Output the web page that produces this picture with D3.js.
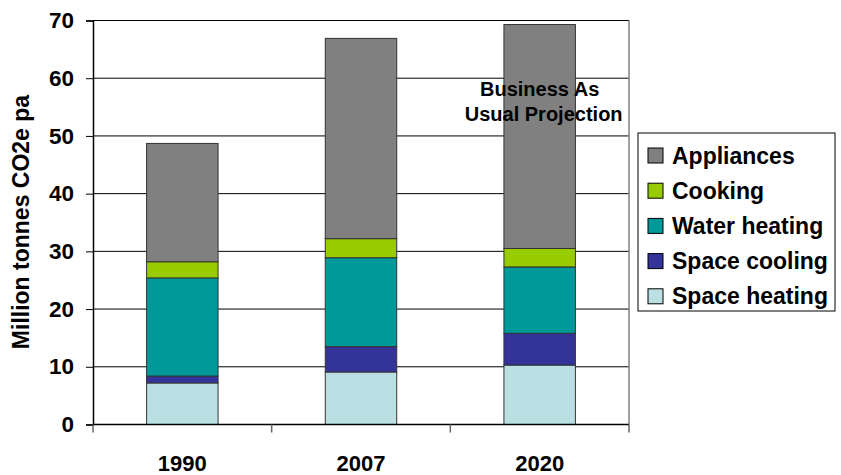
<!DOCTYPE html>
<meta charset="utf-8">
<style>
    body { margin: 0; background: #fff; }
    text { font-family: "Liberation Sans", Arial, sans-serif; font-weight: bold; fill: #000; }
</style>
<svg width="841" height="475"></svg>
<script src="https://d3js.org/d3.v7.min.js"></script>
<script>

    var years = ["1990", "2007", "2020"];
    var series = ["Space heating", "Space cooling", "Water heating", "Cooking", "Appliances"];
    var spaceHeating = [7.2, 9.1, 10.3];
    var spaceCooling = [1.2, 4.4, 5.5];
    var waterHeating = [17.0, 15.4, 11.5];
    var cooking = [2.8, 3.3, 3.2];
    var appliances = [20.5, 34.7, 38.8];
    var yTicks = [0, 10, 20, 30, 40, 50, 60, 70];

    var colors = ["#bbe0e3", "#333399", "#009999", "#99cc00", "#808080"];

    var svg = d3.select("svg"),
        margin = {top: 20.5, right: 212, bottom: 50.5, left: 93},
        width = 841 - margin.left - margin.right,
        height = 475 - margin.top - margin.bottom,
        g = svg.append("g").attr("transform",
            "translate(" + margin.left + "," + margin.top + ")");

    // rows for the stack
    var rows = years.map(function (y, i) {
        return {
            year: y,
            "Space heating": spaceHeating[i],
            "Space cooling": spaceCooling[i],
            "Water heating": waterHeating[i],
            "Cooking": cooking[i],
            "Appliances": appliances[i]
        };
    });

    var stacked = d3.stack().keys(series)(rows);

    var x = d3.scaleBand().domain(years).range([0, width]).paddingInner(0.6).paddingOuter(0.3);
    var y = d3.scaleLinear().domain([0, 70]).range([height, 0]);
    var color = d3.scaleOrdinal(series, colors);

    // gridlines
    g.append("g").selectAll("line")
        .data(yTicks.slice(1))
        .enter().append("line")
        .attr("x1", 0).attr("x2", width)
        .attr("y1", function (d) { return y(d); })
        .attr("y2", function (d) { return y(d); })
        .attr("stroke", "#000").attr("stroke-width", 1);

    // right border
    g.append("line")
        .attr("x1", width).attr("x2", width)
        .attr("y1", 0).attr("y2", height)
        .attr("stroke", "#808080").attr("stroke-width", 1.5);

    // bars
    g.append("g").selectAll("g")
        .data(stacked)
        .enter().append("g")
        .attr("fill", function (d) { return color(d.key); })
        .selectAll("rect")
        .data(function (d) { return d; })
        .enter().append("rect")
        .attr("x", function (d) { return x(d.data.year); })
        .attr("width", x.bandwidth())
        .attr("y", function (d) { return y(d[1]); })
        .attr("height", function (d) { return y(d[0]) - y(d[1]); })
        .attr("stroke", "#333")
        .attr("stroke-width", 1);

    // y axis
    var yAxis = g.append("g")
        .call(d3.axisLeft(y).tickValues(yTicks).tickSize(7).tickPadding(12));
    yAxis.select(".domain").attr("stroke", "#000").attr("stroke-width", 1.5);
    yAxis.selectAll(".tick line").attr("stroke", "#000");
    yAxis.selectAll(".tick text")
        .style("font-size", "22.5px")
        .style("font-family", "Liberation Sans, Arial, sans-serif")
        .style("font-weight", "bold")
        .attr("fill", "#000");

    // x axis: ticks at band boundaries
    var xb = g.append("g").attr("transform", "translate(0," + height + ")");
    xb.append("line").attr("x1", 0).attr("x2", width)
        .attr("stroke", "#000").attr("stroke-width", 1.5);
    xb.selectAll(".tk")
        .data(d3.range(years.length + 1))
        .enter().append("line")
        .attr("x1", function (i) { return i * width / years.length; })
        .attr("x2", function (i) { return i * width / years.length; })
        .attr("y1", 0).attr("y2", 8)
        .attr("stroke", "#666").attr("stroke-width", 1.5);
    xb.selectAll("text")
        .data(years)
        .enter().append("text")
        .attr("x", function (d) { return x(d) + x.bandwidth() / 2; })
        .attr("y", 46)
        .attr("text-anchor", "middle")
        .style("font-size", "22px")
        .text(function (d) { return d; });

    // y title
    svg.append("text")
        .attr("transform", "translate(29," + 222 + ") rotate(-90)")
        .attr("text-anchor", "middle")
        .style("font-size", "23px")
        .text("Million tonnes CO2e pa");

    // annotation
    var note = g.append("text")
        .attr("text-anchor", "middle")
        .style("font-size", "20px");
    note.append("tspan").attr("x", x("2020") + x.bandwidth() / 2).attr("y", 75).text("Business As");
    note.append("tspan").attr("x", x("2020") + x.bandwidth() / 2 + 4).attr("y", 100).text("Usual Projection");

    // legend
    var leg = svg.append("g").attr("transform", "translate(638,133)");
    leg.append("rect")
        .attr("width", 197).attr("height", 178)
        .attr("fill", "#fff").attr("stroke", "#000").attr("stroke-width", 1);
    var items = leg.selectAll(".item")
        .data(series.slice().reverse())
        .enter().append("g")
        .attr("transform", function (d, i) { return "translate(10," + (22.5 + i * 35.2) + ")"; });
    items.append("rect")
        .attr("x", 0).attr("y", -7.5)
        .attr("width", 15).attr("height", 15)
        .attr("fill", function (d) { return color(d); })
        .attr("stroke", "#000");
    items.append("text")
        .attr("x", 24).attr("dy", "0.35em")
        .style("font-size", "23px")
        .text(function (d) { return d; });
</script>
